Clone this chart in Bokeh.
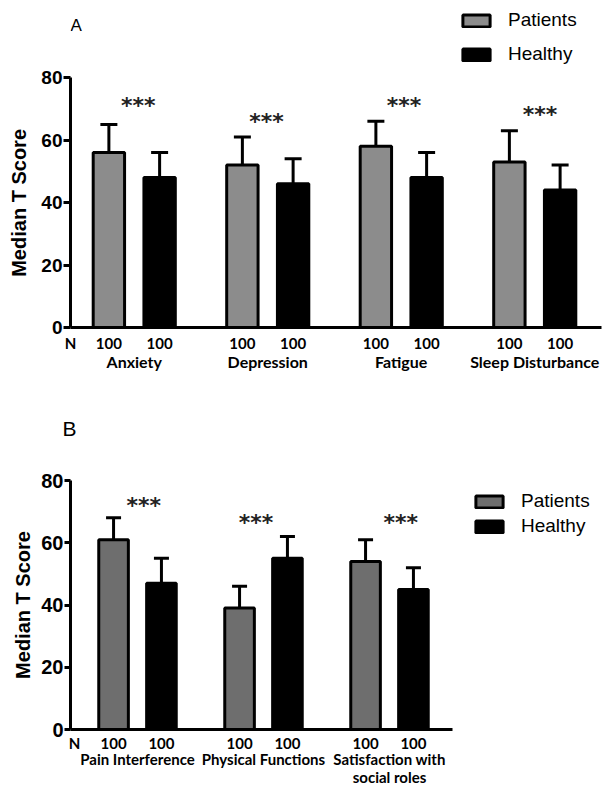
from bokeh.plotting import figure
from bokeh.models import (ColumnDataSource, FixedTicker, LinearAxis, Range1d, Whisker,
                          TeeHead, Legend, LegendItem, Label, Title)
from bokeh.layouts import column
from bokeh.embed import file_html
from bokeh.resources import INLINE
from bokeh.core.properties import value

# ---------------- data ----------------
y_ticks = [0, 20, 40, 60, 80]
n_label = "N"
y_title = "Median T Score"

a_categories = ["Anxiety", "Depression", "Fatigue", "Sleep Disturbance"]
a_patients = [56, 52, 58, 53]
a_patients_err = [65, 61, 66, 63]
a_healthy = [48, 46, 48, 44]
a_healthy_err = [56, 54, 56, 52]
a_n_patients = [100, 100, 100, 100]
a_n_healthy = [100, 100, 100, 100]
a_sig = ["***", "***", "***", "***"]
a_sig_y = [72, 67, 72, 69]
a_sig_shift = [0.03, -0.01, 0.02, 0.04]

b_categories = ["Pain Interference", "Physical Functions", "Satisfaction with\nsocial roles"]
b_patients = [61, 39, 54]
b_patients_err = [68, 46, 61]
b_healthy = [47, 55, 45]
b_healthy_err = [55, 62, 52]
b_n_patients = [100, 100, 100]
b_n_healthy = [100, 100, 100]
b_sig = ["***", "***", "***"]
b_sig_y = [73, 67.5, 67.5]
b_sig_shift = [0.05, -0.06, 0.09]

OFF = 0.19
BAR_W = 0.235


def build(cats, pat, pat_err, hea, hea_err, n_pat, n_hea, sig, sig_y, sig_shift,
          pat_color, frame_w, frame_h, x_start, x_end, y_end, n_tick, fl, fr, ft, fb,
          ytick_size, tick_out, ylab_text, ylab_standoff, tee_size,
          std1, std2, cat_size, cat_lh, leg_loc, leg_spacing):
    n = len(cats)
    groups = list(range(1, n + 1))
    xp = [g - OFF for g in groups]
    xh = [g + OFF for g in groups]
    p = figure(frame_width=frame_w, frame_height=frame_h,
               x_range=Range1d(x_start, x_end), y_range=Range1d(0, y_end),
               output_backend="svg", toolbar_location=None,
               min_border_left=fl, min_border_right=fr,
               min_border_top=ft, min_border_bottom=fb)
    p.outline_line_color = None
    p.xgrid.visible = False
    p.ygrid.visible = False
    p.background_fill_color = "white"
    p.border_fill_color = "white"

    # y axis
    ya = p.yaxis[0]
    ya.ticker = FixedTicker(ticks=y_ticks, minor_ticks=[])
    ya.bounds = (0, 80)
    ya.axis_line_width = 3
    ya.axis_line_color = "black"
    ya.major_tick_line_width = 3
    ya.major_tick_out = tick_out
    ya.major_tick_in = 0
    ya.minor_tick_line_color = None
    ya.major_label_standoff = 1
    ya.major_label_text_font = "Liberation Sans"
    ya.major_label_text_font_style = "bold"
    ya.major_label_text_font_size = ytick_size
    ya.major_label_text_color = "black"
    ya.axis_label = ylab_text
    ya.axis_label_text_font = "Liberation Sans"
    ya.axis_label_text_font_style = "bold"
    ya.axis_label_text_font_size = "20px"
    ya.axis_label_text_color = "black"
    ya.axis_label_standoff = ylab_standoff

    # x axis 1: N and counts
    xa = p.xaxis[0]
    ticks1 = [n_tick] + xp + xh
    labels1 = [n_label] + [str(v) for v in n_pat] + [str(v) for v in n_hea]
    xa.ticker = FixedTicker(ticks=ticks1, minor_ticks=[])
    xa.major_label_overrides = {t: l for t, l in zip(ticks1, labels1)}
    xa.bounds = (x_start, n + 0.5)
    xa.axis_label = None
    xa.axis_line_width = 3
    xa.axis_line_color = "black"
    xa.major_tick_line_color = None
    xa.minor_tick_line_color = None
    xa.major_tick_out = 0
    xa.major_tick_in = 0
    xa.major_label_standoff = std1
    xa.major_label_text_font = "Lato"
    xa.major_label_text_font_style = "bold"
    xa.major_label_text_font_size = "15px"
    xa.major_label_text_color = "black"

    # x axis 2: category names
    xa2 = LinearAxis(ticker=FixedTicker(ticks=groups, minor_ticks=[]), axis_label=None)
    xa2.major_label_overrides = {g: c for g, c in zip(groups, cats)}
    xa2.axis_line_color = None
    xa2.major_tick_line_color = None
    xa2.minor_tick_line_color = None
    xa2.major_tick_out = 0
    xa2.major_tick_in = 0
    xa2.major_label_standoff = std2
    xa2.major_label_text_font = "Lato"
    xa2.major_label_text_font_style = "bold"
    xa2.major_label_text_font_size = cat_size
    xa2.major_label_text_color = "black"
    xa2.major_label_text_line_height = cat_lh
    p.add_layout(xa2, "below")

    # error bars (upper only)
    for xs, lo, hi in ((xp, pat, pat_err), (xh, hea, hea_err)):
        src = ColumnDataSource(dict(x=xs, lower=lo, upper=hi))
        w = Whisker(source=src, base="x", lower="lower", upper="upper", dimension="height",
                    line_width=3, line_color="black",
                    upper_head=TeeHead(size=tee_size, line_width=3, line_color="black"),
                    lower_head=None)
        p.add_layout(w)

    r_pat = p.vbar(x=xp, top=pat, bottom=0, width=BAR_W, fill_color=pat_color,
                   line_color="black", line_width=3)
    r_hea = p.vbar(x=xh, top=hea, bottom=0, width=BAR_W, fill_color="black",
                   line_color="black", line_width=3)

    # significance stars
    sx = [g + s for g, s in zip(groups, sig_shift)]
    p.text(x=sx, y=sig_y, text=sig, text_align="center", text_baseline="middle",
           text_font=value("DejaVu Sans"), text_font_style="bold",
           text_font_size="22px", text_color="#222222", y_offset=3)

    legend = Legend(items=[LegendItem(label="Patients", renderers=[r_pat]),
                           LegendItem(label="Healthy", renderers=[r_hea])],
                    location=leg_loc, orientation="vertical",
                    glyph_width=34, glyph_height=15, label_standoff=15,
                    label_text_font="Liberation Sans", label_text_font_size="19px",
                    label_text_color="black", label_height=15,
                    spacing=leg_spacing, padding=0, margin=0,
                    border_line_color=None, background_fill_color="white",
                    background_fill_alpha=0.0)
    p.add_layout(legend, "center")
    return p


LEFT = 70

# Panel A: frame spans the top of the page so that its legend and letter sit inside it
A_PX = 3.125
a_x0 = 0.5 + 3 / 133.5
pA = build(a_categories, a_patients, a_patients_err, a_healthy, a_healthy_err,
           a_n_patients, a_n_healthy, a_sig, a_sig_y, a_sig_shift,
           "#8c8c8c", 531, 327, a_x0, 4.5, 327 / A_PX, a_x0, LEFT, 3, 0, 44,
           "19px", 7, y_title + "\u00a0" * 14, 8, 17, 6, -3, "16px", 1.0,
           (389, 262), 12)
pA.add_layout(Label(x=a_x0, y=96.8, text="A", text_align="left",
                    text_baseline="middle", text_font="Liberation Sans",
                    text_font_size="17px", text_color="black", x_offset=0))

# Panel B: y range stops at 80; frame extends right so the legend fits inside it
b_x0 = 0.5 - 4 / 126
pB = build(b_categories, b_patients, b_patients_err, b_healthy, b_healthy_err,
           b_n_patients, b_n_healthy, b_sig, b_sig_y, b_sig_shift,
           "#6e6e6e", 534, 249, b_x0, b_x0 + 534 / 126, 80, 0.5, LEFT, 0, 107, 50,
           "20px", 6, y_title, 4, 15, 4, -5, "15px", 1.0,
           (402, 192), 3)
pB.add_layout(Title(text="B", align="left", offset=-8, standoff=82,
                    text_font="Liberation Sans", text_font_style="normal",
                    text_font_size="21px", text_color="black"), "above")

layout = column(pA, pB, spacing=0)
open("out.html", "w").write(file_html(layout, INLINE))
